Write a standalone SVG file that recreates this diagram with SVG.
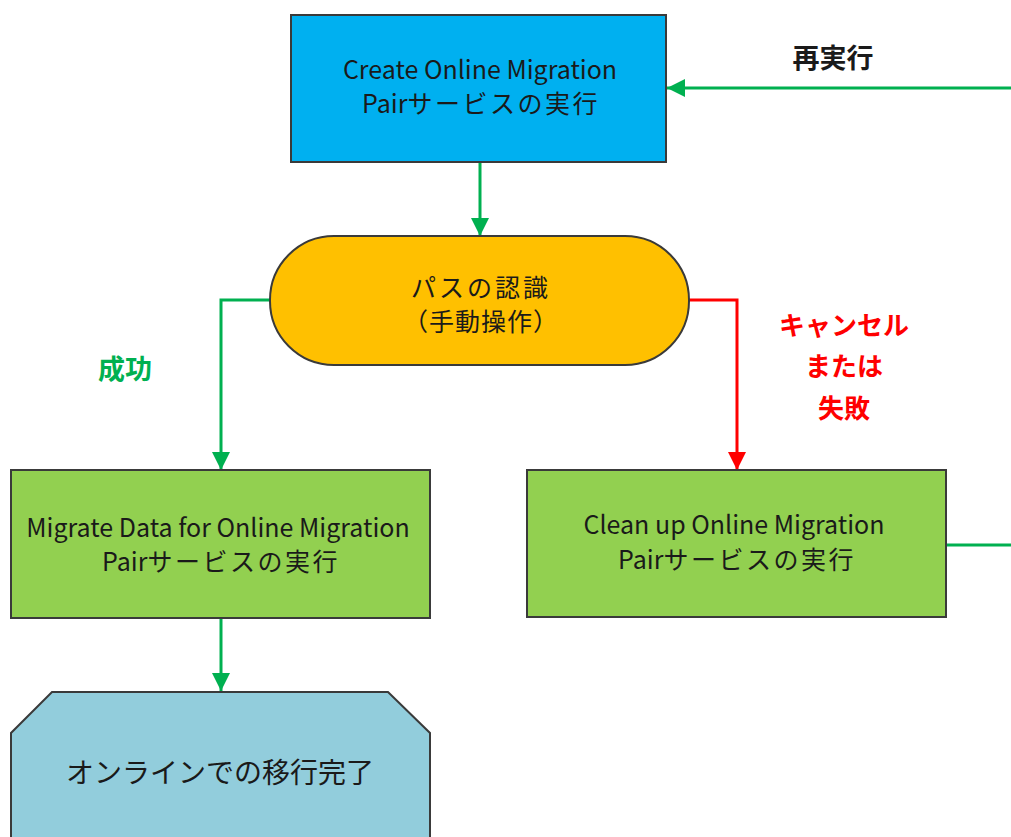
<svg xmlns="http://www.w3.org/2000/svg" width="1011" height="837" viewBox="0 0 1011 837">
<defs>
<style>
.t{font-family:"Noto Sans CJK JP","Noto Sans",sans-serif;font-size:25px;fill:#1a1a1a;text-anchor:middle}
.j{letter-spacing:2.5px}
.box{stroke:#3a3a3a;stroke-width:2}
.g{stroke:#00B050;stroke-width:3;fill:none}
.r{stroke:#FF0000;stroke-width:3;fill:none}
.lg{font-family:"Noto Sans CJK JP",sans-serif;font-size:27px;font-weight:bold;fill:#00B050;text-anchor:middle}
.lr{font-family:"Noto Sans CJK JP",sans-serif;font-size:26px;font-weight:bold;fill:#FF0000;text-anchor:middle}
.lb{font-family:"Noto Sans CJK JP",sans-serif;font-size:27px;font-weight:bold;fill:#1a1a1a;text-anchor:middle}
</style>
<marker id="ag" viewBox="0 0 10 10" refX="10" refY="5" markerWidth="6" markerHeight="6" markerUnits="strokeWidth" orient="auto"><path d="M0,0 L10,5 L0,10 z" fill="#00B050"/></marker>
<marker id="ar" viewBox="0 0 10 10" refX="10" refY="5" markerWidth="6" markerHeight="6" markerUnits="strokeWidth" orient="auto"><path d="M0,0 L10,5 L0,10 z" fill="#FF0000"/></marker>
</defs>
<g id="connectors">
<path class="g" d="M480,162 V236" marker-end="url(#ag)"/>
<path class="g" d="M270,300 H221 V470" marker-end="url(#ag)"/>
<path class="r" d="M689,300 H737 V470" marker-end="url(#ar)"/>
<path class="g" d="M221,618 V691" marker-end="url(#ag)"/>
<path class="g" d="M946,545 H1011"/>
<path class="g" d="M1011,88 H667" marker-end="url(#ag)"/>
</g>
<g id="labels">
<text class="lb" x="833" y="68">再実行</text>
<text class="lg" x="125" y="379">成功</text>
<text class="lr" x="844" y="335">キャンセル</text>
<text class="lr" x="844" y="376">または</text>
<text class="lr" x="844" y="418">失敗</text>
</g>
<g id="create">
<rect class="box" x="291" y="15" width="375" height="147" fill="#00B0F0"/>
<text class="t" x="480" y="79">Create Online Migration</text>
<text class="t" x="481" y="113">Pair<tspan class="j">サービスの実行</tspan></text>
</g>
<g id="recognize">
<rect class="box" x="270" y="236" width="419" height="129" rx="64" ry="64" fill="#FFC000"/>
<text class="t" style="letter-spacing:3px" x="481" y="297">パスの認識</text>
<text class="t" style="letter-spacing:1px" x="481" y="331">（手動操作）</text>
</g>
<g id="migrate">
<rect class="box" x="11" y="470" width="419" height="148" fill="#92D050"/>
<text class="t" x="218" y="537">Migrate Data for Online Migration</text>
<text class="t" x="221" y="571">Pair<tspan class="j">サービスの実行</tspan></text>
</g>
<g id="cleanup">
<rect class="box" x="527" y="470" width="419" height="147" fill="#92D050"/>
<text class="t" x="734" y="534">Clean up Online Migration</text>
<text class="t" x="737" y="569">Pair<tspan class="j">サービスの実行</tspan></text>
</g>
<g id="done">
<path class="box" d="M11,845 V733 L52,692 H388 L430,733 V845" fill="#92CDDC"/>
<text class="t" x="220" y="783" style="font-size:28px">オンラインでの移行完了</text>
</g>
</svg>
